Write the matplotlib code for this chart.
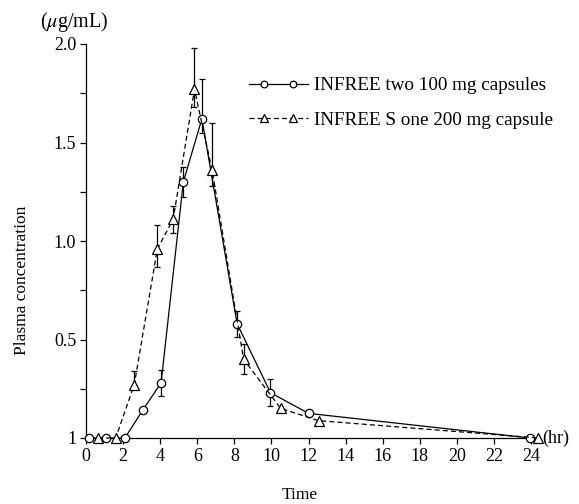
import numpy as np
import matplotlib
matplotlib.use('Agg')
from matplotlib import pyplot as plt
from matplotlib.legend_handler import HandlerLine2D
from matplotlib.lines import Line2D

plt.rcParams['font.family'] = ['Liberation Serif', 'DejaVu Serif']
plt.rcParams['mathtext.fontset'] = 'stix'

# INFREE two 100 mg capsules (circles, solid)
t_cap = [0.15, 1.1, 2.1, 3.05, 4.05, 5.25, 6.25, 8.15, 9.95, 12.0, 23.95]
c_cap = [0, 0, 0, 0.14, 0.28, 1.30, 1.62, 0.58, 0.23, 0.125, 0]
lo_cap = [0, 0, 0, 0, 0.065, 0.075, 0.07, 0.065, 0.07, 0, 0]
hi_cap = [0, 0, 0, 0, 0.065, 0.075, 0.20, 0.065, 0.07, 0, 0]

# INFREE S one 200 mg capsule (triangles, dashed)
t_s = [0.65, 1.6, 2.6, 3.85, 4.7, 5.85, 6.8, 8.5, 10.5, 12.55, 24.4]
c_s = [0, 0, 0.27, 0.96, 1.11, 1.77, 1.36, 0.40, 0.15, 0.088, 0]
lo_s = [0, 0, 0, 0.09, 0.07, 0.09, 0.08, 0.075, 0, 0, 0]
hi_s = [0, 0, 0.07, 0.12, 0.07, 0.21, 0.24, 0.075, 0, 0, 0]

xticks = list(range(0, 25, 2))
yticks = [0, 0.5, 1.0, 1.5, 2.0]
ytick_labels = ['1', '0.5', '1.0', '1.5', '2.0']


class PadHandler(HandlerLine2D):
    # line over the full handle length, two markers set in from the ends
    def create_artists(self, legend, orig_handle, xdescent, ydescent,
                       width, height, fontsize, trans):
        pad = 0.8 * fontsize
        x = [-xdescent, -xdescent + pad, -xdescent + width - pad, -xdescent + width]
        y = [(height - ydescent) / 2] * 4
        line = Line2D(x, y)
        self.update_prop(line, orig_handle, legend)
        line.set_markevery([1, 2])
        line.set_markersize(orig_handle.get_markersize() * legend.markerscale)
        line.set_transform(trans)
        return [line]


fig = plt.figure(figsize=(5.79, 5.04), dpi=100)
ax = fig.add_axes([86/579, 1-438/504, (531-86)/579, (438-44)/504])

def has_err(lo, hi):
    return [i for i in range(len(lo)) if lo[i] > 0 or hi[i] > 0]

for t, c, lo, hi in [(t_cap, c_cap, lo_cap, hi_cap), (t_s, c_s, lo_s, hi_s)]:
    idx = has_err(lo, hi)
    ax.errorbar([t[i] for i in idx], [c[i] for i in idx],
                yerr=[[lo[i] for i in idx], [hi[i] for i in idx]],
                fmt='none', ecolor='black', elinewidth=0.9, capsize=2, capthick=0.9,
                clip_on=False, zorder=2)

l1, = ax.plot(t_cap, c_cap, '-', color='black', lw=0.9, marker='o', ms=6,
              mfc='white', mec='black', mew=0.9, clip_on=False, zorder=3,
              label='INFREE two 100 mg capsules')
l2, = ax.plot(t_s, c_s, '--', color='black', lw=0.9, dashes=(4, 2.5), marker='^', ms=7,
              mfc='white', mec='black', mew=0.9, clip_on=False, zorder=3,
              label='INFREE S one 200 mg capsule')

ax.set_xlim(0, 24)
ax.set_ylim(0, 2.0)
ax.spines['top'].set_visible(False)
ax.spines['right'].set_visible(False)
ax.spines['left'].set_linewidth(0.9)
ax.spines['bottom'].set_linewidth(0.9)
ax.set_xticks(xticks)
ax.set_yticks(yticks)
ax.set_yticklabels(ytick_labels)
ax.set_yticks(np.arange(0.25, 2.0, 0.5), minor=True)
ax.tick_params(axis='both', which='both', direction='out', length=4, width=0.9,
               labelsize=13, pad=3)

ax.text(24.6, 0, '(hr)', fontsize=13, va='center', ha='left', clip_on=False)
fig.text(74/579, 1-22/504, '($\\mu$g/mL)', fontsize=14.5, ha='center', va='center')
fig.text(22/579, 1-280/504, 'Plasma concentration', fontsize=12.5, rotation=90,
         ha='center', va='center')
fig.text(300/579, 1-495/504, 'Time', fontsize=12.5, ha='center', va='center')

hm = {l1: PadHandler(), l2: PadHandler()}
ax.legend(handles=[l1, l2], handler_map=hm, frameon=False, fontsize=13.8,
          loc='upper left', bbox_to_anchor=(249/579, 1-77/504),
          bbox_transform=fig.transFigure, borderpad=0, borderaxespad=0,
          handlelength=3.1, handletextpad=0.3, labelspacing=0.9, markerscale=0.8)

fig.savefig('out.png', dpi=100)
